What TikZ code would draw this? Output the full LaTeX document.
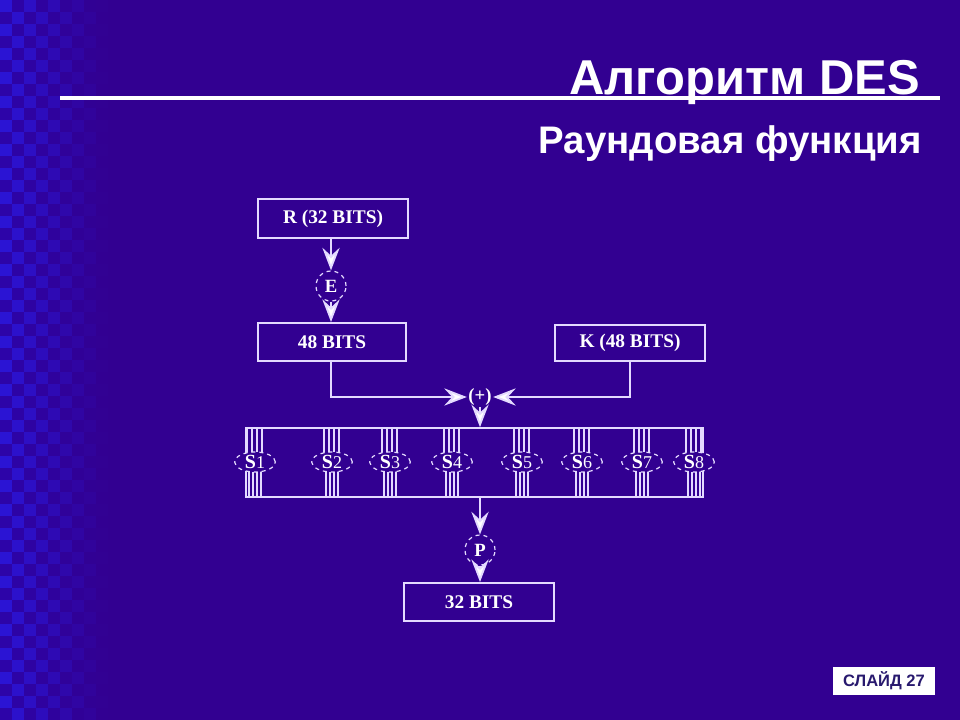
\documentclass[tikz,border=0pt]{standalone}
\usepackage{fontspec}
\setmainfont{Liberation Serif}
\setsansfont{Liberation Sans}
\usetikzlibrary{arrows.meta,shapes.geometric}
\definecolor{bg}{RGB}{50,0,145}
\definecolor{chkA}{RGB}{42,22,220}
\definecolor{chkB}{RGB}{44,4,170}
\definecolor{ln}{RGB}{228,218,255}
\definecolor{slidetxt}{RGB}{40,25,110}
\tikzset{
  boxnode/.style={draw=ln, line width=1.4pt, text=white, inner sep=0pt,
    font=\bfseries\fontsize{14.5}{16}\selectfont},
  opnode/.style={circle, draw=ln, dashed, line width=0.9pt, minimum size=22.5pt, inner sep=0pt,
    text=white, font=\bfseries\fontsize{14}{16}\selectfont},
  snode/.style={ellipse, draw=ln, dashed, line width=0.9pt, fill=bg, minimum width=30.5pt,
    minimum height=15pt, inner sep=0pt, text=white, font=\fontsize{13.5}{15}\selectfont},
  busline/.style={draw=ln, line width=0.9pt},
  conn/.style={draw=ln, line width=1.4pt},
  arr/.style={conn, -{Stealth[length=17pt, width=13pt, inset=6pt, fill=white]}},
}
\begin{document}
\begin{tikzpicture}[x=0.75pt,y=-0.75pt]
\useasboundingbox (0,0) rectangle (960,720);
\fill[bg] (0,0) rectangle (960,720);
% checkered left band
\foreach \i in {0,...,8}{
  \pgfmathtruncatemacro\p{90-\i*11}
  \foreach \j in {0,...,59}{
    \pgfmathtruncatemacro\od{mod(\i+\j,2)}
    \ifnum\od=0
      \fill[chkA!\p!bg] (\i*12,\j*12) rectangle ++(12,12);
    \else
      \fill[chkB!\p!bg] (\i*12,\j*12) rectangle ++(12,12);
    \fi
  }
}
% title
\draw[white, line width=2.3pt] (60,98) -- (940,98);
\node[anchor=base east, inner sep=0pt, text=white,
  font=\sffamily\bfseries\fontsize{36.7}{42}\selectfont] (title) at (920,95) {Алгоритм DES};
\node[anchor=base east, inner sep=0pt, text=white,
  font=\sffamily\bfseries\fontsize{28.8}{34}\selectfont] (subtitle) at (922,154) {Раундовая функция};

% boxes
\node[boxnode, minimum width=112.5pt, minimum height=29pt] (R) at (333,218.5) {R (32 BITS)};
\node[opnode] (E) at (331,286) {E};
\node[boxnode, minimum width=111pt, minimum height=28.5pt] (B48) at (332,342) {48 BITS};
\node[boxnode, minimum width=112.5pt, minimum height=27pt] (K) at (630,343) {K (48 BITS)};
\node[inner sep=1pt, text=white, font=\bfseries\fontsize{14}{16}\selectfont] (plus) at (480,397) {(+)};
\node[draw=ln, line width=1.2pt, minimum width=342.75pt, minimum height=51.75pt, inner sep=0pt] (bus) at (474.5,462.5) {};
\node[opnode] (P) at (480,550) {P};
\node[boxnode, minimum width=112.5pt, minimum height=28.5pt] (B32) at (479,602) {32 BITS};

% S-box wires
\foreach \x in {255,332,390,452,522,582,642,694}{
  \foreach \o in {-8,-3,2,7}{
    \draw[busline] (\x+\o,428) -- (\x+\o,462);
  }
  \foreach \o in {-6,-2,2,6}{
    \draw[busline] (\x+\o,462) -- (\x+\o,497);
  }
}
\foreach \n/\x in {1/255,2/332,3/390,4/452,5/522,6/582,7/642,8/694}{
  \node[snode] (s\n) at (\x,462) {{\bfseries\fontsize{15}{16}\selectfont S}\n};
}

% connectors
\draw[arr] (E |- R.south) -- (E);
\draw[arr] (E) -- (E |- B48.north);
\draw[arr] (E |- B48.south) |- (plus.west);
\draw[arr] (K.south) |- (plus.east);
\draw[arr] (plus.south) -- (plus.south |- bus.north);
\draw[arr] (P |- bus.south) -- (P);
\draw[arr] (P) -- (P |- B32.north);

% slide number
\node[fill=white, minimum width=77pt, minimum height=21.5pt, inner sep=0pt, text=slidetxt,
  font=\sffamily\bfseries\fontsize{12.4}{14}\selectfont] (slide) at (884,681) {СЛАЙД 27};
\end{tikzpicture}
\end{document}
